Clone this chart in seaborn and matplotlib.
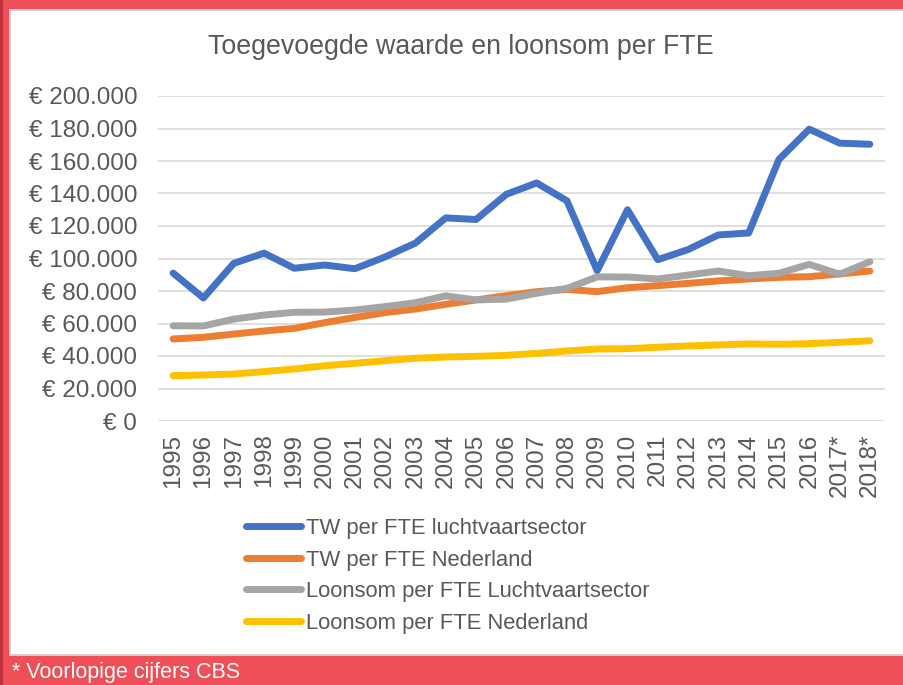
import matplotlib.pyplot as plt
import matplotlib.patches as mpatches
import numpy as np
import pandas as pd
import seaborn as sns

# categories
years = ['1995', '1996', '1997', '1998', '1999', '2000', '2001', '2002', '2003', '2004', '2005', '2006',
         '2007', '2008', '2009', '2010', '2011', '2012', '2013', '2014', '2015', '2016', '2017*', '2018*']

# series (euro per FTE)
tw_lucht = [91000, 75700, 97000, 103300, 94000, 96000, 93700, 101000, 109500, 125000, 124000, 139500,
            146500, 135500, 92500, 130000, 99300, 105500, 114500, 115700, 161000, 179600, 171000, 170300]
tw_nl = [50500, 51500, 53500, 55400, 57000, 60500, 63700, 66700, 68900, 71800, 74500, 77100,
         79600, 81000, 79600, 82000, 83300, 84700, 86200, 87400, 88400, 88800, 90500, 92300]
loon_lucht = [58600, 58500, 62700, 65200, 66900, 67000, 68300, 70400, 72800, 77000, 74500, 75000,
              78600, 81600, 88700, 88600, 87400, 89800, 92300, 89400, 90900, 96400, 90300, 98000]
loon_nl = [27900, 28300, 28900, 30400, 32000, 34000, 35500, 37100, 38600, 39400, 39800, 40400,
           41600, 43100, 44300, 44500, 45400, 46200, 46800, 47400, 47200, 47600, 48400, 49400]

series_names = ['TW per FTE luchtvaartsector', 'TW per FTE Nederland',
                'Loonsom per FTE Luchtvaartsector', 'Loonsom per FTE Nederland']
colors = ['#4472C4', '#ED7D31', '#A5A5A5', '#FFC000']

df = pd.concat([
    pd.DataFrame({'jaar': np.arange(len(years)), 'waarde': vals, 'reeks': name})
    for name, vals in zip(series_names, [tw_lucht, tw_nl, loon_lucht, loon_nl])
])

sns.set_theme(style="white")
plt.rcParams['font.family'] = ['Liberation Sans', 'DejaVu Sans']
text_grey = '#595959'
red = '#EF4F57'

W, H = 904, 685
fig = plt.figure(figsize=(W / 100, H / 100), dpi=100)
fig.patch.set_facecolor('white')

# red frame around the white panel
def px_rect(x0, y0, x1, y1, color, z=0):
    fig.patches.append(mpatches.Rectangle((x0 / W, 1 - y1 / H), (x1 - x0) / W, (y1 - y0) / H,
                                          transform=fig.transFigure, facecolor=color,
                                          edgecolor='none', zorder=z))

px_rect(0, 0, W, 10, red)
px_rect(0, 656, W, H, red)
px_rect(0, 0, 9, H, red)
px_rect(0, 0, 3, H, '#C0303A')
px_rect(9, 9, W, 11, '#D0D0D0')
px_rect(9, 654, W, 656, '#D0D0D0')
px_rect(9, 9, 11, 656, '#D0D0D0')

ax = fig.add_axes([158 / W, 1 - 421 / H, 727 / W, 325 / H])
ax.set_facecolor('none')
sns.lineplot(data=df, x='jaar', y='waarde', hue='reeks', hue_order=series_names,
             palette=colors, linewidth=5, ax=ax, legend=True, zorder=3)
for line in ax.lines:
    line.set_solid_capstyle('round')
    line.set_solid_joinstyle('round')

ax.set_xlim(-0.5, len(years) - 0.5)
ax.set_ylim(0, 200000)
ax.set_yticks(np.arange(0, 200001, 20000))
ax.set_yticklabels(['€ 0' if v == 0 else '€ ' + f'{v:,}'.replace(',', '.') for v in range(0, 200001, 20000)])
ax.set_xticks(np.arange(len(years)))
ax.set_xticklabels(years, rotation=90, va='top')
ax.tick_params(axis='y', length=0, pad=15, labelsize=17.5, labelcolor=text_grey)
ax.tick_params(axis='x', length=0, pad=9, labelsize=17.5, labelcolor=text_grey)
ax.set_xlabel('')
ax.set_ylabel('')
ax.yaxis.grid(True, color='#D9D9D9', linewidth=1.2)
ax.set_axisbelow(True)
for s in ax.spines.values():
    s.set_visible(False)

handles, labels = ax.get_legend_handles_labels()
ax.get_legend().remove()
leg = fig.legend(handles, labels, loc='upper left', bbox_to_anchor=(246 / W, 1 - 518 / H),
                 frameon=False, fontsize=15.8, handlelength=2.5, handletextpad=0.25,
                 labelspacing=0.48, borderpad=0, borderaxespad=0)
for t in leg.get_texts():
    t.set_color(text_grey)

fig.text(461 / W, 1 - 47 / H, 'Toegevoegde waarde en loonsom per FTE', ha='center', va='center',
         fontsize=19.3, color=text_grey)
fig.text(12 / W, 1 - 683 / H, '* Voorlopige cijfers CBS', ha='left', va='bottom',
         fontsize=15.5, color='white')

fig.savefig('out.png', dpi=100)
